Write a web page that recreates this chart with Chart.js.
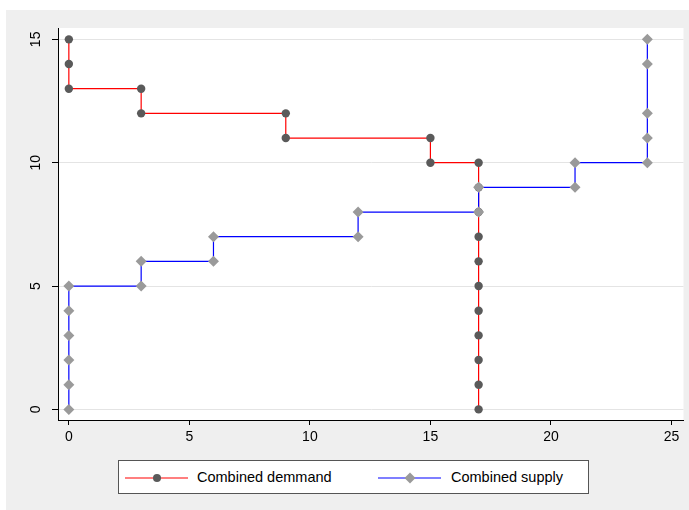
<!DOCTYPE html>
<html>
<head>
<meta charset="utf-8">
<script src="https://cdn.jsdelivr.net/npm/chart.js@4"></script>
<style>
  body { margin: 0; background: #fff; font-family: "Liberation Sans", Arial, sans-serif; }
  #bg { position: absolute; left: 6px; top: 10px; width: 683px; height: 500px; background: #efefef; }
  #wrap { position: absolute; left: 0; top: 0; width: 689px; height: 510px; }
  #legend { position: absolute; left: 118px; top: 460px; width: 471px; height: 34px; box-sizing: border-box;
            background: #fff; border: 1px solid #555; }
  #legend svg { position: absolute; top: 11px; }
  #legend span { position: absolute; top: 8px; font-size: 14.5px; color: #000; white-space: nowrap; }
</style>
</head>
<body>
<div id="bg"></div>
<div id="wrap"><canvas id="myChart" width="689" height="510"></canvas></div>
<div id="legend">
  <svg style="left:6px" width="64" height="12">
    <line x1="0" y1="6" x2="63" y2="6" stroke="#ff0000" stroke-width="1.2"/>
    <circle cx="32" cy="6" r="4" fill="#5a5a5a"/>
  </svg>
  <span style="left:78px">Combined demmand</span>
  <svg style="left:259px" width="64" height="12">
    <line x1="0" y1="6" x2="63" y2="6" stroke="#0000ff" stroke-width="1.2"/>
    <polygon points="32,0.5 37.5,6 32,11.5 26.5,6" fill="#9a9a9a"/>
  </svg>
  <span style="left:332px">Combined supply</span>
</div>
<script>
// step points, corners included
const demandQty = [0, 0, 0, 3, 3, 9, 9, 15, 15, 17, 17, 17, 17, 17, 17, 17, 17, 17, 17, 17];
const demandPrice = [15, 14, 13, 13, 12, 12, 11, 11, 10, 10, 9, 8, 7, 6, 5, 4, 3, 2, 1, 0];
const supplyQty = [0, 0, 0, 0, 0, 0, 3, 3, 6, 6, 12, 12, 17, 17, 21, 21, 24, 24, 24, 24, 24];
const supplyPrice = [0, 1, 2, 3, 4, 5, 5, 6, 6, 7, 7, 8, 8, 9, 9, 10, 10, 11, 12, 14, 15];
const xTicks = [0, 5, 10, 15, 20, 25];
const yTicks = [0, 5, 10, 15];

function toPoints(xs, ys) {
    return xs.map((x, i) => ({ x: x, y: ys[i] }));
}

// white plot region
const plotBg = {
    id: 'plotBg',
    beforeDraw(chart) {
        const a = chart.chartArea;
        const ctx = chart.ctx;
        ctx.save();
        ctx.fillStyle = '#fff';
        ctx.fillRect(a.left, a.top, a.right - a.left, a.bottom - a.top);
        ctx.restore();
    }
};

// rotated y tick labels, Stata style
const yLabels = {
    id: 'yLabels',
    afterDraw(chart) {
        const s = chart.scales.y;
        const ctx = chart.ctx;
        ctx.save();
        ctx.font = '14px "Liberation Sans", Arial, sans-serif';
        ctx.fillStyle = '#000';
        ctx.textAlign = 'center';
        ctx.textBaseline = 'middle';
        yTicks.forEach(v => {
            ctx.save();
            ctx.translate(36, s.getPixelForValue(v));
            ctx.rotate(-Math.PI / 2);
            ctx.fillText(String(v), 0, 0);
            ctx.restore();
        });
        ctx.restore();
    }
};

Chart.defaults.font.family = '"Liberation Sans", Arial, sans-serif';
Chart.defaults.font.size = 14;
Chart.defaults.color = '#000';

new Chart(document.getElementById('myChart'), {
    type: 'scatter',
    data: {
        datasets: [{
            label: 'Combined demmand',
            data: toPoints(demandQty, demandPrice),
            showLine: true,
            borderColor: '#ff0000',
            borderWidth: 1.2,
            pointStyle: 'circle',
            pointRadius: 4.2,
            pointBackgroundColor: '#5a5a5a',
            pointBorderWidth: 0,
            order: 2
        }, {
            label: 'Combined supply',
            data: toPoints(supplyQty, supplyPrice),
            showLine: true,
            borderColor: '#0000ff',
            borderWidth: 1.2,
            pointStyle: 'rectRot',
            pointRadius: 5.5,
            pointBackgroundColor: '#9a9a9a',
            pointBorderWidth: 0,
            order: 1
        }]
    },
    options: {
        responsive: false,
        animation: false,
        layout: { padding: { top: 28, right: 3, left: 0, bottom: 0 } },
        plugins: { legend: { display: false }, tooltip: { enabled: false } },
        scales: {
            x: {
                type: 'linear',
                min: -0.45,
                max: 25.5,
                afterBuildTicks: s => { s.ticks = xTicks.map(v => ({ value: v })); },
                afterFit: s => { s.height = 90; },
                ticks: { padding: 4 },
                grid: { drawOnChartArea: false, tickColor: '#000', tickLength: 5 },
                border: { color: '#000', width: 1 }
            },
            y: {
                type: 'linear',
                min: -0.43,
                max: 15.46,
                afterBuildTicks: s => { s.ticks = yTicks.map(v => ({ value: v })); },
                afterFit: s => { s.width = 58; },
                ticks: { display: false },
                grid: { color: '#e4e4e4', lineWidth: 1, tickColor: '#000', tickLength: 6 },
                border: { color: '#000', width: 1 }
            }
        }
    },
    plugins: [plotBg, yLabels]
});
</script>
</body>
</html>
